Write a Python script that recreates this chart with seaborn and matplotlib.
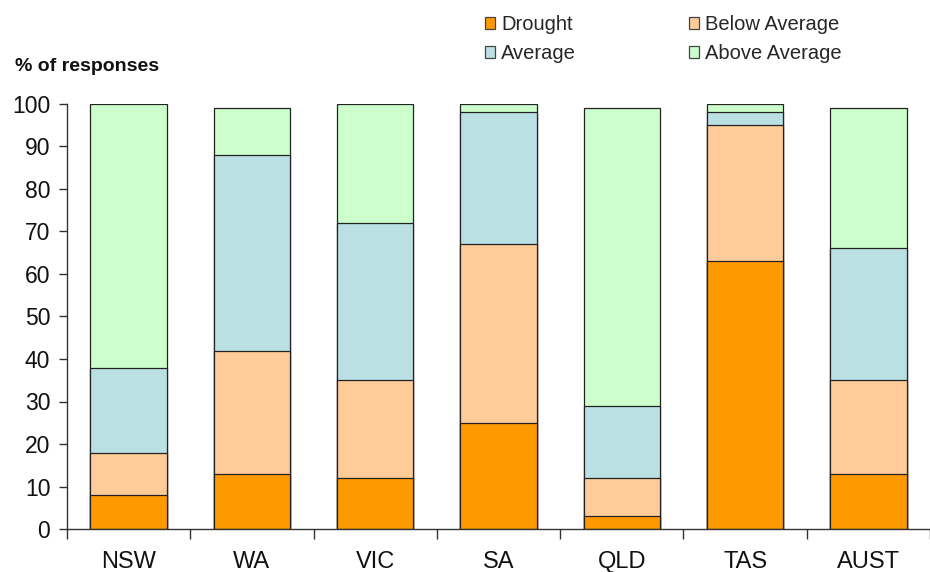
import matplotlib
matplotlib.use("Agg")
import matplotlib.pyplot as plt
import seaborn as sns
import numpy as np
import pandas as pd
from matplotlib.patches import Patch

# ---- data ----
regions = ["NSW", "WA", "VIC", "SA", "QLD", "TAS", "AUST"]
drought = [8, 13, 12, 25, 3, 63, 13]
below_average = [10, 29, 23, 42, 9, 32, 22]
average = [20, 46, 37, 31, 17, 3, 31]
above_average = [62, 11, 28, 2, 70, 2, 33]
series_names = ["Drought", "Below Average", "Average", "Above Average"]
y_ticks = [0, 10, 20, 30, 40, 50, 60, 70, 80, 90, 100]

colors = {"Drought": "#FF9900", "Below Average": "#FFCC99",
          "Average": "#BBE0E3", "Above Average": "#CCFFCC"}

sns.set_theme(style="white")
plt.rcParams['font.family'] = ['Liberation Sans', 'DejaVu Sans']

df = pd.DataFrame({"region": regions, "Drought": drought,
                   "Below Average": below_average, "Average": average,
                   "Above Average": above_average})
cum = df[series_names].cumsum(axis=1)
cum["region"] = df["region"]

fig = plt.figure(figsize=(9.3, 5.72), dpi=100)
ax = fig.add_axes([67/930, (572-529)/572, (930-67)/930, (529-104)/572])

for name in reversed(series_names):
    sns.barplot(data=cum, x="region", y=name, color=colors[name], ax=ax,
                width=0.62, edgecolor="#222222", linewidth=0.9,
                saturation=1, order=regions)

ax.set_xlim(-0.5, -0.5 + 863/125.2)
ax.set_ylim(0, 100)
ax.set_yticks(y_ticks)
ax.set_xlabel("")
ax.set_ylabel("")
for s in ["top", "right"]:
    ax.spines[s].set_visible(False)
for s in ["left", "bottom"]:
    ax.spines[s].set_color("#333333")
    ax.spines[s].set_linewidth(1.0)

ax.tick_params(axis="y", which="major", direction="out", length=6, width=1,
               color="#333333", labelsize=16.5, pad=6, left=True)
ax.tick_params(axis="x", which="major", length=0, labelsize=17, pad=15.5)
ax.set_xticks(np.arange(-0.5, len(regions), 1.0), minor=True)
ax.tick_params(axis="x", which="minor", direction="out", length=7, width=1,
               color="#333333", bottom=True)
for lab in ax.get_xticklabels() + ax.get_yticklabels():
    lab.set_color("#111111")

fig.text(15/930, 1 - 67/572, "% of responses", fontsize=14, fontweight="bold",
         va="center", ha="left", color="#111111")

handles = [Patch(facecolor=colors[n], edgecolor="#444444", linewidth=0.9, label=n)
           for n in ["Drought", "Average", "Below Average", "Above Average"]]
fig.legend(handles=handles, ncol=2, loc="upper left",
           bbox_to_anchor=(485/930, 1 - 15/572), frameon=False, fontsize=14.5,
           handlelength=0.5, handleheight=0.5, handletextpad=0.3,
           columnspacing=5.6, labelspacing=0.5, borderaxespad=0, borderpad=0)

fig.savefig("out.png", dpi=100)
